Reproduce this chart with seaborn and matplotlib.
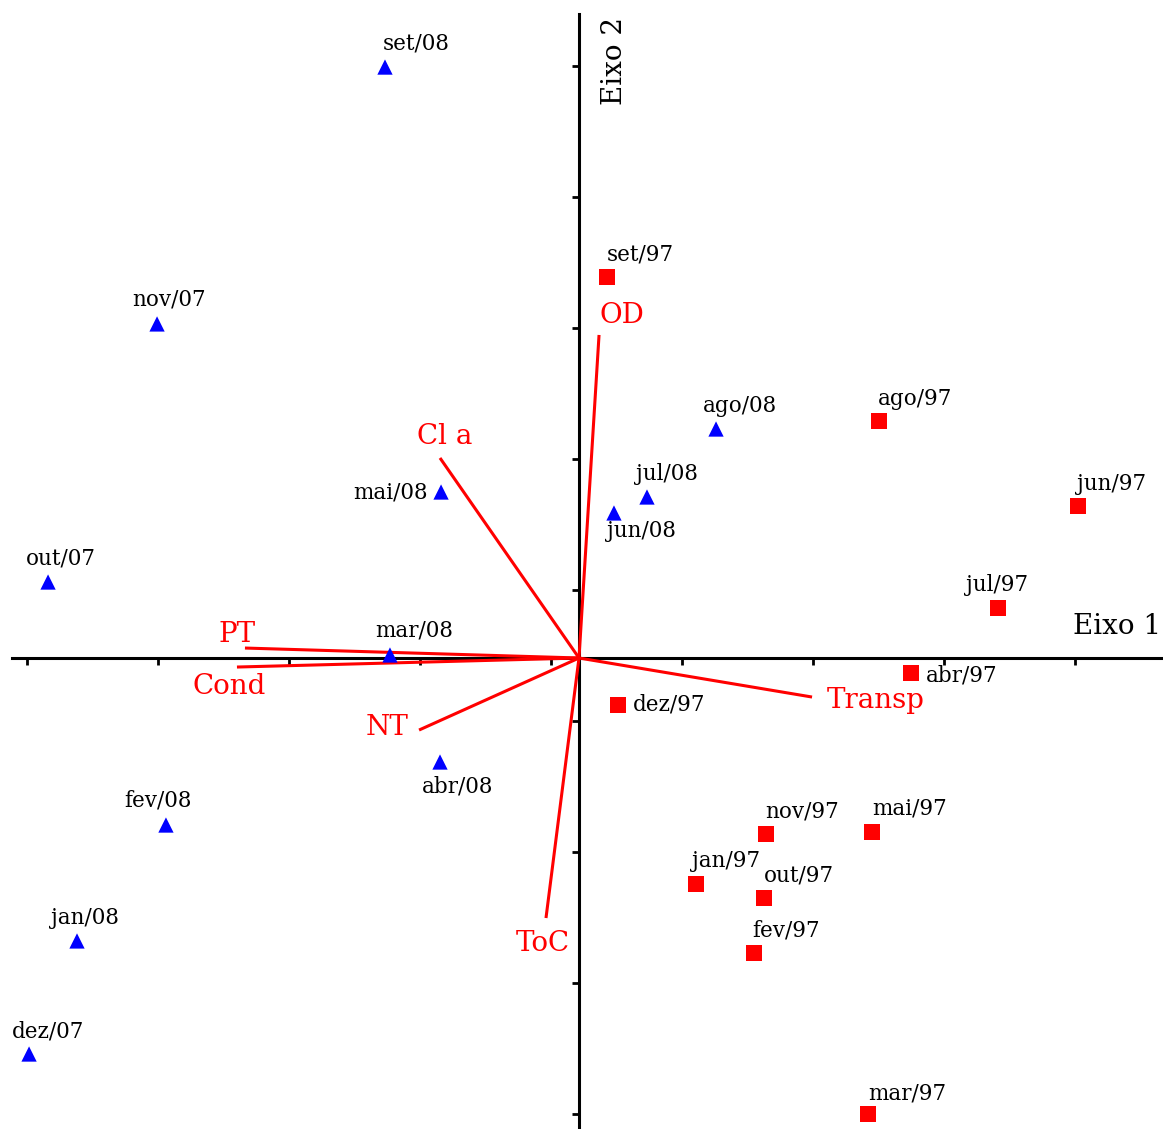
import numpy as np
import pandas as pd
import matplotlib
matplotlib.use("Agg")
import matplotlib.pyplot as plt
import seaborn as sns

# ---- data (PCA scores, units = tick spacing) ----
samples_0708 = ["set/08", "nov/07", "out/07", "mai/08", "mar/08", "abr/08",
                "fev/08", "jan/08", "dez/07", "ago/08", "jul/08", "jun/08"]
eixo1_0708 = [-1.481, -3.221, -4.053, -1.053, -1.443, -1.061,
              -3.153, -3.832, -4.198, 1.046, 0.519, 0.267]
eixo2_0708 = [4.511, 2.550, 0.580, 1.267, 0.023, -0.794,
              -1.275, -2.160, -3.023, 1.748, 1.229, 1.107]

samples_97 = ["set/97", "ago/97", "jun/97", "jul/97", "abr/97", "dez/97",
              "nov/97", "mai/97", "jan/97", "out/97", "fev/97", "mar/97"]
eixo1_97 = [0.214, 2.290, 3.809, 3.198, 2.534, 0.298,
            1.427, 2.237, 0.893, 1.412, 1.336, 2.206]
eixo2_97 = [2.908, 1.809, 1.160, 0.382, -0.115, -0.359,
            -1.344, -1.328, -1.725, -1.832, -2.252, -3.481]

variables = ["OD", "Cl a", "PT", "Cond", "NT", "ToC", "Transp"]
var_eixo1 = [0.153, -1.061, -2.550, -2.611, -1.221, -0.252, 1.779]
var_eixo2 = [2.466, 1.527, 0.076, -0.069, -0.550, -1.985, -0.298]

# ---- label offsets (pixels: dx right, dy down; text left edge / center) ----
sample_offsets = {
    "set/08": (-2, -24), "nov/07": (-25, -24), "out/07": (-22, -24),
    "mai/08": (-13, 0), "mar/08": (-15, -24), "abr/08": (-18, 24),
    "fev/08": (-42, -25), "jan/08": (-26, -23), "dez/07": (-17, -23),
    "ago/08": (-13, -23), "jul/08": (-11, -23), "jun/08": (-7, 18),
    "set/97": (0, -23), "ago/97": (-1, -22), "jun/97": (-1, -22),
    "jul/97": (-32, -23), "abr/97": (15, 2), "dez/97": (15, -1),
    "nov/97": (-1, -23), "mai/97": (0, -23), "jan/97": (-4, -23),
    "out/97": (0, -22), "fev/97": (-2, -23), "mar/97": (0, -21),
}
right_aligned = {"mai/08"}
var_offsets = {
    "OD": (0, -19), "Cl a": (-23, -21), "PT": (-26, -14), "Cond": (-44, 19),
    "NT": (-53, -3), "ToC": (-30, 25), "Transp": (15, 3),
}

df = pd.DataFrame({
    "amostra": samples_0708 + samples_97,
    "eixo1": eixo1_0708 + eixo1_97,
    "eixo2": eixo2_0708 + eixo2_97,
    "grupo": ["2007/08"] * len(samples_0708) + ["1997"] * len(samples_97),
})

sns.set_theme(style="white")
plt.rcParams["font.family"] = ["DejaVu Serif", "DejaVu Sans"]

W, H = 1163, 1129
fig = plt.figure(figsize=(W / 100, H / 100), dpi=100)
ax = fig.add_axes([0, 0, 1, 1])

unit = 131.0
ox, oy = 579.0, 658.0
ax.set_xlim(-ox / unit, (W - ox) / unit)
ax.set_ylim((oy - H) / unit, oy / unit)

# vectors
for name, vx, vy in zip(variables, var_eixo1, var_eixo2):
    ax.plot([0, vx], [0, vy], color="#ff0000", lw=2.2,
            solid_capstyle="butt", zorder=3)
    dx, dy = var_offsets[name]
    ax.annotate(name, (vx, vy), xytext=(dx * 0.72, -dy * 0.72),
                textcoords="offset points", ha="left", va="center",
                color="#ff0000", fontsize=20, zorder=6)

sns.scatterplot(data=df, x="eixo1", y="eixo2", hue="grupo", style="grupo",
                palette={"2007/08": "#0000ff", "1997": "#ff0000"},
                markers={"2007/08": "^", "1997": "s"},
                s=121, linewidth=0, legend=False, ax=ax, zorder=5)

for _, r in df.iterrows():
    dx, dy = sample_offsets[r["amostra"]]
    ax.annotate(r["amostra"], (r["eixo1"], r["eixo2"]),
                xytext=(dx * 0.72, -dy * 0.72), textcoords="offset points",
                ha="right" if r["amostra"] in right_aligned else "left",
                va="center", color="black", fontsize=15.5, zorder=6)

# axes through origin
for s in ["top", "right"]:
    ax.spines[s].set_visible(False)
ax.spines["left"].set_position(("data", 0))
ax.spines["bottom"].set_position(("data", 0))
ax.spines["left"].set_bounds((oy - H) / unit, (oy - 14) / unit)
ax.spines["bottom"].set_bounds((12 - ox) / unit, (W - ox) / unit)
for s in ["left", "bottom"]:
    ax.spines[s].set_linewidth(2.2)
    ax.spines[s].set_color("black")
    ax.spines[s].set_zorder(2)

xticks = [-0.214 + k for k in range(-4, 5)]
yticks = [0.519 + k for k in range(-4, 5)]
ax.set_xticks(xticks)
ax.set_yticks(yticks)
ax.tick_params(axis="both", direction="out", length=5, width=2,
               color="black", labelleft=False, labelbottom=False,
               left=True, bottom=True)
ax.set_xlabel("")
ax.set_ylabel("")

ax.text(1073 / W, 1 - 627 / H, "Eixo 1", transform=ax.transAxes,
        ha="left", va="center", fontsize=20, color="black")
ax.text(615 / W, 1 - 61 / H, "Eixo 2", transform=ax.transAxes,
        ha="center", va="center", rotation=90, fontsize=20, color="black")

fig.savefig("out.png", dpi=100, facecolor="white")
